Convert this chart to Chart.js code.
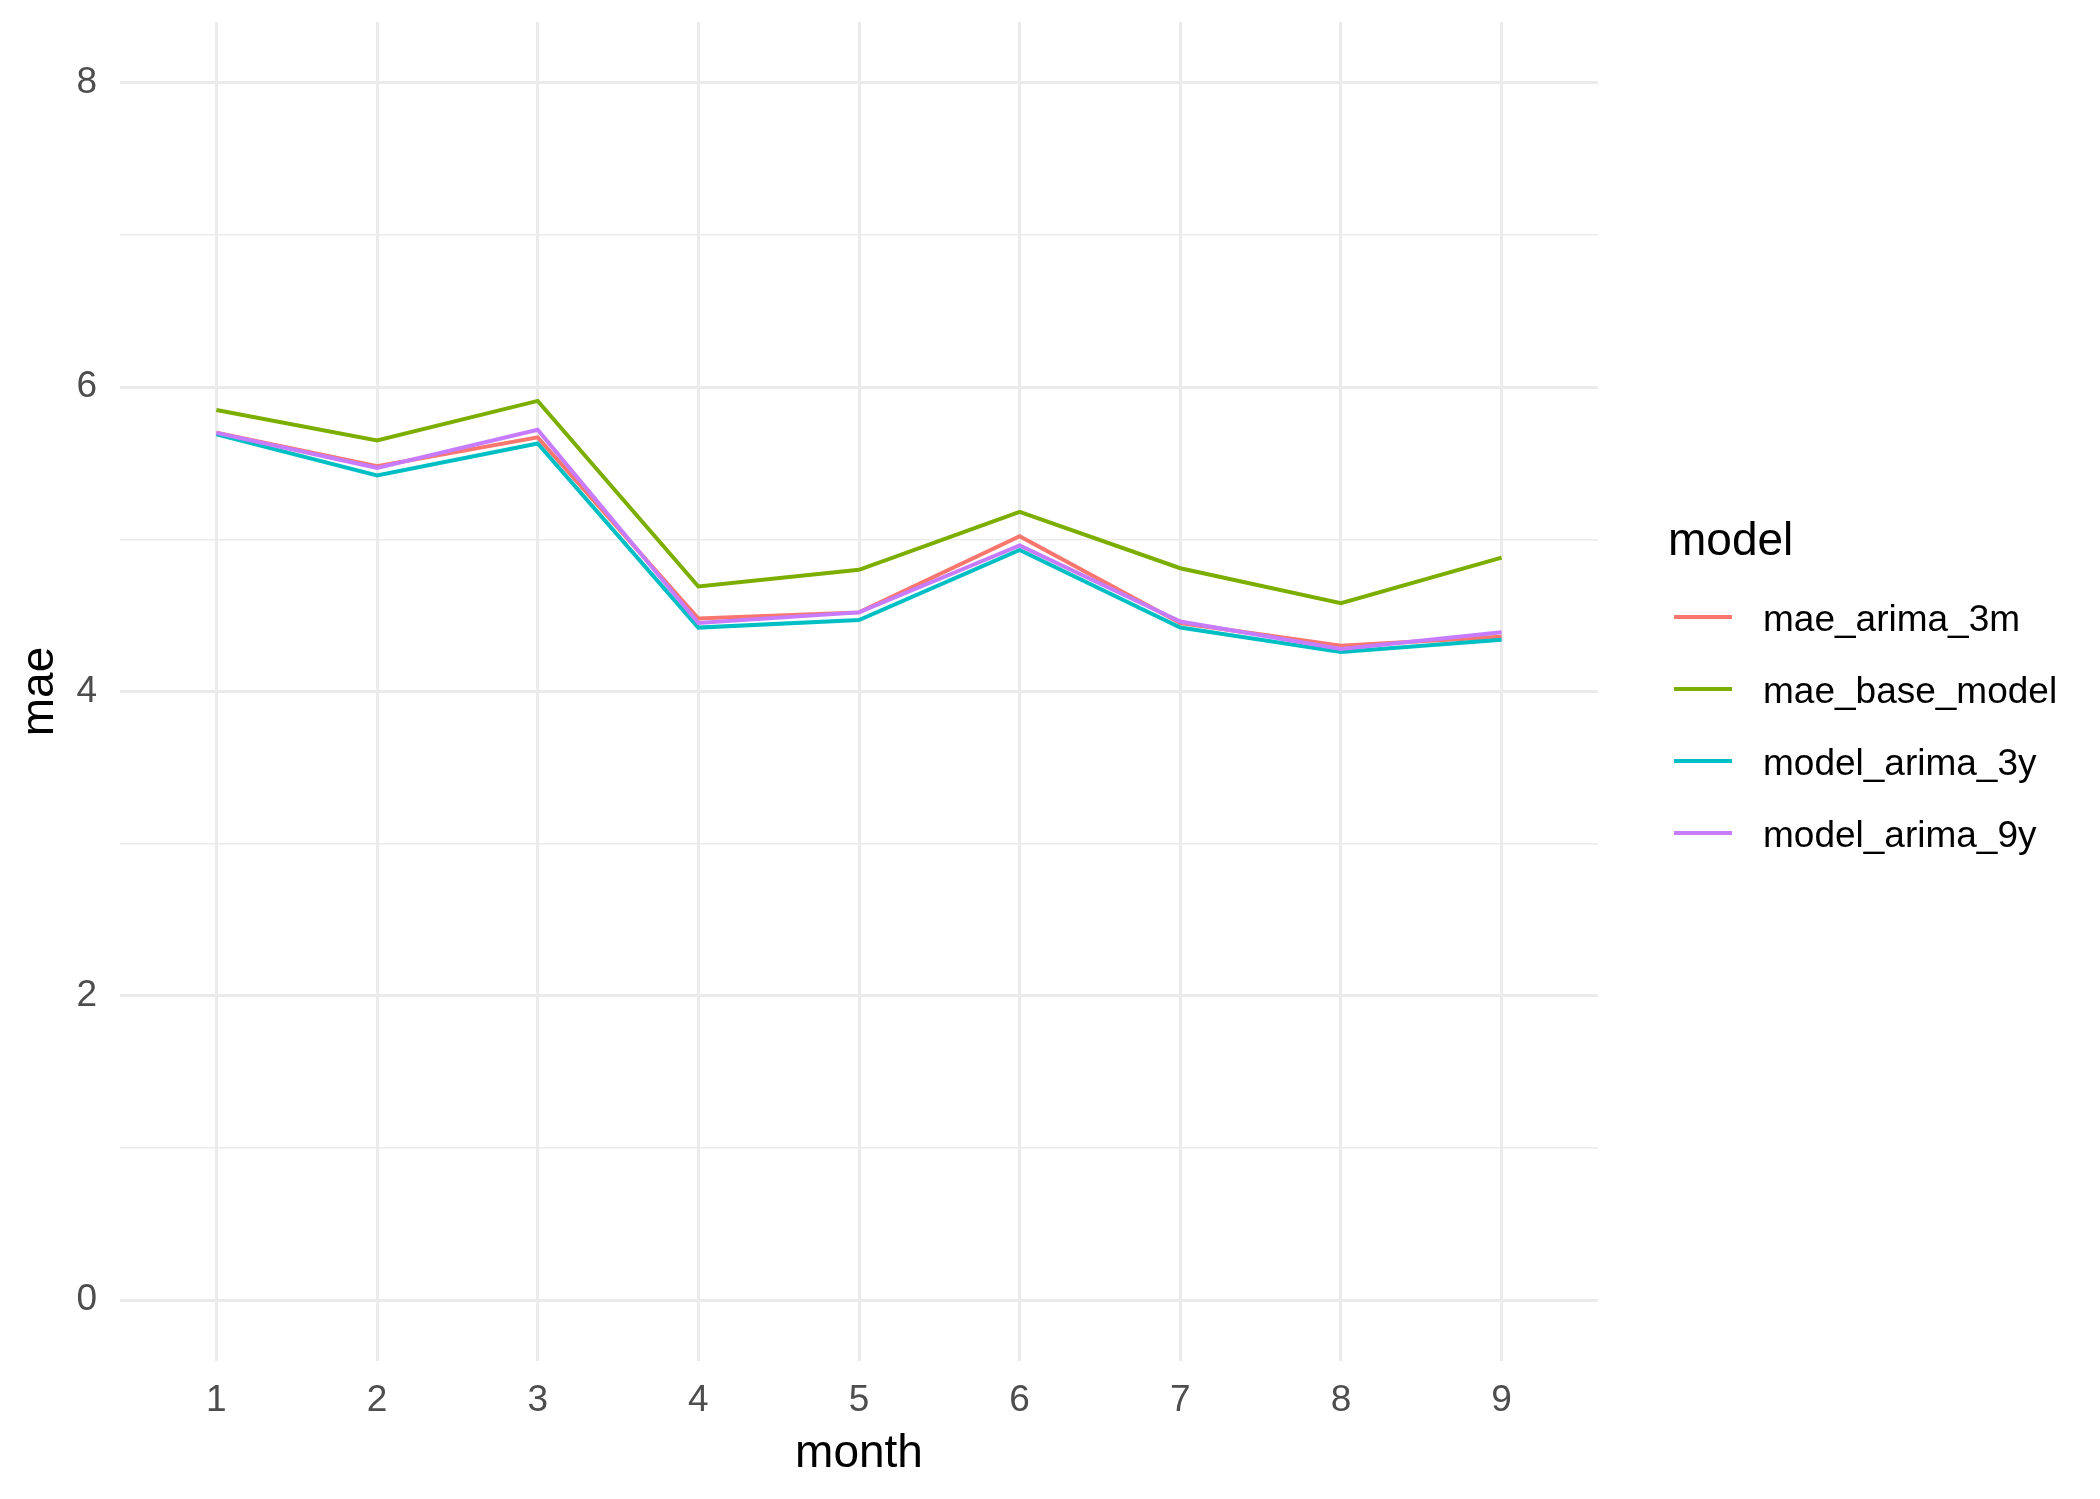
<!DOCTYPE html>
<html lang="en">
<head>
  <meta charset="UTF-8" />
  <title>mae by month</title>
  <script src="https://cdn.jsdelivr.net/npm/chart.js"></script>
  <style>
    body { margin: 0; background: white; }
    #wrap { width: 2100px; height: 1499px; position: relative; }
  </style>
</head>
<body>
  <div id="wrap"><canvas id="maeChart"></canvas></div>

  <script>
    // values
    const months = [1, 2, 3, 4, 5, 6, 7, 8, 9];
    const maeArima3m   = [5.70, 5.48, 5.67, 4.48, 4.52, 5.02, 4.45, 4.30, 4.36];
    const maeBaseModel = [5.85, 5.65, 5.91, 4.69, 4.80, 5.18, 4.81, 4.58, 4.88];
    const modelArima3y = [5.69, 5.42, 5.63, 4.42, 4.47, 4.93, 4.42, 4.26, 4.34];
    const modelArima9y = [5.70, 5.47, 5.72, 4.45, 4.52, 4.96, 4.46, 4.28, 4.39];
    const yTicks = [0, 1, 2, 3, 4, 5, 6, 7, 8];   // odd ones are minor grid lines
    const seriesNames = ["mae_arima_3m", "mae_base_model", "model_arima_3y", "model_arima_9y"];
    const seriesColors = ["#F8766D", "#7CAE00", "#00BFC4", "#C77CFF"];
    const seriesValues = [maeArima3m, maeBaseModel, modelArima3y, modelArima9y];

    const FONT = "'Liberation Sans', Arial, sans-serif";

    const datasets = seriesNames.map((name, i) => ({
      label: name,
      data: months.map((m, j) => ({ x: m, y: seriesValues[i][j] })),
      borderColor: seriesColors[i],
      backgroundColor: seriesColors[i],
      borderWidth: 4,
      pointRadius: 0,
      tension: 0,
      fill: false,
      order: seriesNames.length - i
    }));

    // ggplot style legend at the right
    const ggLegend = {
      id: "ggLegend",
      afterDraw(chart) {
        const ctx = chart.ctx;
        ctx.save();
        ctx.fillStyle = "#000000";
        ctx.textAlign = "left";
        ctx.textBaseline = "alphabetic";
        ctx.font = "46px " + FONT;
        ctx.fillText("model", 1668, 555);
        ctx.font = "37px " + FONT;
        chart.data.datasets.forEach((ds, i) => {
          const y = 617 + i * 72;
          ctx.strokeStyle = ds.borderColor;
          ctx.lineWidth = 4;
          ctx.beginPath();
          ctx.moveTo(1674, y);
          ctx.lineTo(1732, y);
          ctx.stroke();
          ctx.fillText(ds.label, 1763, y + 14);
        });
        ctx.restore();
      }
    };

    new Chart(document.getElementById("maeChart"), {
      type: "line",
      data: { datasets: datasets },
      plugins: [ggLegend],
      options: {
        responsive: true,
        maintainAspectRatio: false,
        animation: false,
        layout: { padding: { top: 0, right: 502, left: 0, bottom: 0 } },
        plugins: {
          legend: { display: false },
          tooltip: { enabled: false }
        },
        scales: {
          x: {
            type: "linear",
            min: 0.4,
            max: 9.6,
            afterBuildTicks: (scale) => { scale.ticks = months.map(v => ({ value: v })); },
            afterFit: (scale) => { scale.height = 138; },
            grid: { color: "#EBEBEB", lineWidth: 3, drawTicks: false },
            border: { display: false },
            ticks: {
              color: "#4D4D4D",
              font: { family: FONT, size: 37 },
              padding: 18,
              maxRotation: 0,
              autoSkip: false,
              callback: (v) => String(v)
            },
            title: {
              display: true,
              text: "month",
              color: "#000000",
              font: { family: FONT, size: 46 },
              padding: { top: 0, bottom: 17 }
            }
          },
          y: {
            type: "linear",
            min: -0.4,
            max: 8.4,
            afterBuildTicks: (scale) => { scale.ticks = yTicks.map(v => ({ value: v })); },
            afterFit: (scale) => {
              scale.width = 120;
              // panel starts 22px below the top edge
              scale.paddingTop = 22;
              scale.paddingBottom = 0;
            },
            grid: {
              color: "#EBEBEB",
              lineWidth: (c) => (c.tick && c.tick.value % 2 === 0 ? 3 : 1.5),
              drawTicks: false
            },
            border: { display: false },
            ticks: {
              color: "#4D4D4D",
              font: { family: FONT, size: 37 },
              padding: 23,
              autoSkip: false,
              callback: (v) => (v % 2 === 0 ? String(v) : "")
            },
            title: {
              display: true,
              text: "mae",
              color: "#000000",
              font: { family: FONT, size: 46 },
              padding: { top: 13, bottom: 0 }
            }
          }
        }
      }
    });
  </script>
</body>
</html>
